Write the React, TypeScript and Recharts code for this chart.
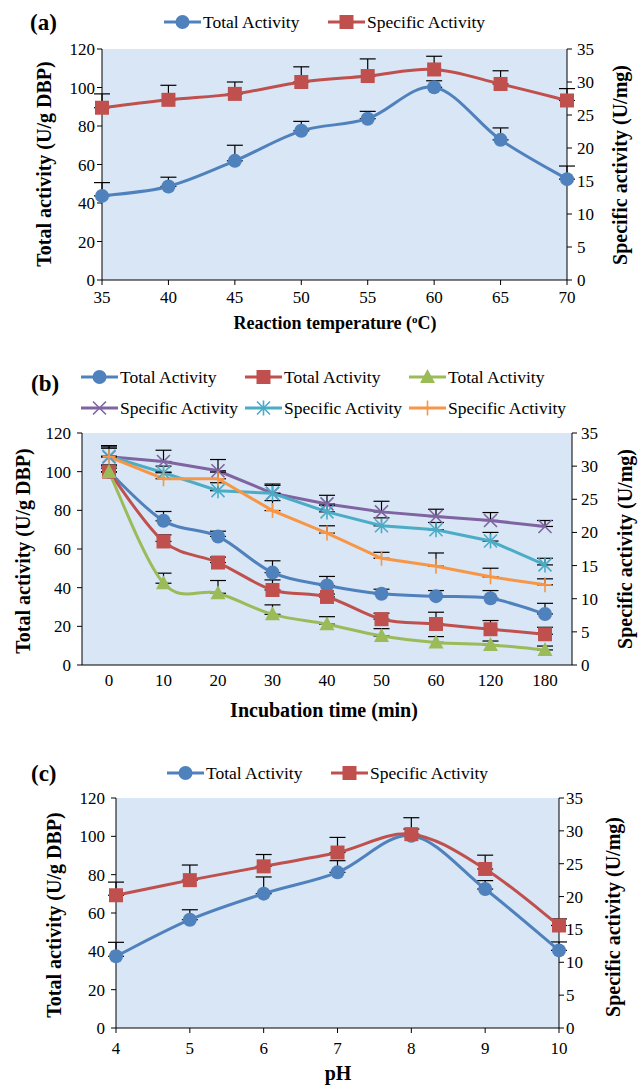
import React from 'react';
import { LineChart, Line, XAxis, YAxis, CartesianGrid, ErrorBar } from 'recharts';

const FONT = 'Liberation Serif, Times New Roman, Times, serif';
const BLUE = '#4F81BD';
const RED = '#C0504D';
const GREEN = '#9BBB59';
const PURPLE = '#8064A2';
const TEAL = '#4BACC6';
const ORANGE = '#F79646';
const BG = '#d8e6f5';

// ---------- Panel (a): reaction temperature ----------
const tempC = [35, 40, 45, 50, 55, 60, 65, 70];
const tempTotal = [43.7, 48.6, 61.9, 77.5, 83.8, 100.1, 72.8, 52.4];
const tempTotalErr = [6.9, 4.8, 8.1, 4.9, 3.8, 3.4, 6.2, 6.8];
const tempSpecific = [26.1, 27.3, 28.2, 30.0, 30.9, 31.9, 29.7, 27.2];
const tempSpecificErr = [2.1, 2.2, 1.8, 2.3, 2.6, 2.0, 2.0, 1.8];

// ---------- Panel (b): incubation time ----------
const timeLabels = ['0', '10', '20', '30', '40', '50', '60', '120', '180'];
const timeTotal1 = [100, 74.6, 66.5, 47.8, 41.1, 36.8, 35.6, 34.5, 26.4];
const timeTotal1Err = [3.5, 4.8, 2.7, 6.1, 4.7, 2.4, 2.9, 4.0, 5.5];
const timeTotal2 = [100, 63.9, 53.0, 38.8, 35.2, 23.7, 21.2, 18.5, 15.9];
const timeTotal2Err = [3.0, 3.4, 2.8, 5.2, 1.5, 3.1, 6.1, 4.5, 3.6];
const timeTotal3 = [99.8, 42.3, 37.1, 26.2, 21.1, 15.0, 11.7, 10.4, 7.8];
const timeTotal3Err = [2.0, 5.2, 6.6, 4.9, 3.9, 3.8, 3.0, 2.0, 2.0];
const timeSpec1 = [31.4, 30.7, 29.3, 25.9, 24.3, 23.1, 22.4, 21.8, 20.9];
const timeSpec1Err = [1.7, 1.7, 1.7, 1.4, 1.3, 1.6, 1.1, 1.2, 0.9];
const timeSpec2 = [31.5, 29.0, 26.3, 25.9, 23.1, 21.0, 20.4, 18.7, 15.1];
const timeSpec2Err = [1.2, 1.0, 1.2, 1.2, 1.0, 1.2, 1.1, 1.3, 1.0];
const timeSpec3 = [31.4, 28.1, 28.1, 23.3, 19.9, 16.1, 14.9, 13.3, 12.1];
const timeSpec3Err = [1.5, 1.0, 1.0, 1.5, 1.1, 0.9, 2.0, 1.3, 0.9];

// ---------- Panel (c): pH ----------
const phValues = [4, 5, 6, 7, 8, 9, 10];
const phTotal = [37.4, 56.5, 70.1, 81.2, 100.3, 72.5, 40.5];
const phTotalErr = [7.3, 5.2, 8.7, 6.1, 3.5, 4.4, 4.4];
const phSpecific = [20.2, 22.5, 24.6, 26.7, 29.5, 24.2, 15.6];
const phSpecificErr = [2.0, 2.3, 1.8, 2.3, 2.5, 2.1, 1.0];

const leftTicks = [0, 20, 40, 60, 80, 100, 120];
const rightTicks = [0, 5, 10, 15, 20, 25, 30, 35];

const dataA = tempC.map((x, i) => ({
  x,
  total: tempTotal[i],
  totalErr: [0, tempTotalErr[i]],
  spec: tempSpecific[i],
  specErr: [0, tempSpecificErr[i]],
}));

const dataB = timeLabels.map((t, i) => ({
  t,
  t1: timeTotal1[i], t1e: [0, timeTotal1Err[i]],
  t2: timeTotal2[i], t2e: [0, timeTotal2Err[i]],
  t3: timeTotal3[i], t3e: [0, timeTotal3Err[i]],
  s1: timeSpec1[i], s1e: [0, timeSpec1Err[i]],
  s2: timeSpec2[i], s2e: [0, timeSpec2Err[i]],
  s3: timeSpec3[i], s3e: [0, timeSpec3Err[i]],
}));

const dataC = phValues.map((x, i) => ({
  x,
  total: phTotal[i],
  totalErr: [0, phTotalErr[i]],
  spec: phSpecific[i],
  specErr: [0, phSpecificErr[i]],
}));

// Excel-like smoothed line (Catmull-Rom as cubic Bezier)
function excelCurve(context: any) {
  let pts: number[][] = [];
  return {
    areaStart() {},
    areaEnd() {},
    lineStart() {
      pts = [];
    },
    point(x: number, y: number) {
      pts.push([+x, +y]);
    },
    lineEnd() {
      const n = pts.length;
      if (!n) return;
      context.moveTo(pts[0][0], pts[0][1]);
      for (let i = 0; i < n - 1; i++) {
        const p0 = pts[Math.max(i - 1, 0)];
        const p1 = pts[i];
        const p2 = pts[i + 1];
        const p3 = pts[Math.min(i + 2, n - 1)];
        context.bezierCurveTo(
          p1[0] + (p2[0] - p0[0]) / 6,
          p1[1] + (p2[1] - p0[1]) / 6,
          p2[0] - (p3[0] - p1[0]) / 6,
          p2[1] - (p3[1] - p1[1]) / 6,
          p2[0],
          p2[1]
        );
      }
    },
  };
}

type Shape = 'circle' | 'square' | 'triangle' | 'x' | 'star' | 'plus';

function Marker({ shape, cx, cy, color }: { shape: Shape; cx: number; cy: number; color: string }) {
  if (cx == null || cy == null) return null;
  switch (shape) {
    case 'circle':
      return <circle cx={cx} cy={cy} r={7} fill={color} />;
    case 'square':
      return <rect x={cx - 7} y={cy - 7} width={14} height={14} fill={color} />;
    case 'triangle':
      return <polygon points={`${cx},${cy - 8} ${cx + 7.5},${cy + 6} ${cx - 7.5},${cy + 6}`} fill={color} />;
    case 'x':
      return (
        <path
          d={`M${cx - 6.5},${cy - 6.5}L${cx + 6.5},${cy + 6.5}M${cx - 6.5},${cy + 6.5}L${cx + 6.5},${cy - 6.5}`}
          stroke={color}
          strokeWidth={1.6}
          fill="none"
        />
      );
    case 'star':
      return (
        <path
          d={`M${cx - 6.5},${cy - 6.5}L${cx + 6.5},${cy + 6.5}M${cx - 6.5},${cy + 6.5}L${cx + 6.5},${cy - 6.5}M${cx},${cy - 7.5}L${cx},${cy + 7.5}`}
          stroke={color}
          strokeWidth={1.6}
          fill="none"
        />
      );
    case 'plus':
      return (
        <path
          d={`M${cx - 6.5},${cy}L${cx + 6.5},${cy}M${cx},${cy - 7.5}L${cx},${cy + 7.5}`}
          stroke={color}
          strokeWidth={1.6}
          fill="none"
        />
      );
  }
  return null;
}

const dotFn = (shape: Shape, color: string) => (p: any) =>
  <Marker key={`m-${shape}-${p.index}`} shape={shape} cx={p.cx} cy={p.cy} color={color} />;

const tickStyle = { fill: '#000', fontSize: 17, fontFamily: FONT };
const axisLineStyle = { stroke: '#000', strokeWidth: 1 };

function errBar(key: string) {
  return <ErrorBar dataKey={key} width={8} stroke="#000" strokeWidth={1.2} direction="y" />;
}

function LegendItem({ x, y, shape, color, label }: { x: number; y: number; shape: Shape; color: string; label: string }) {
  return (
    <g>
      <line x1={x} x2={x + 37} y1={y} y2={y} stroke={color} strokeWidth={3} />
      <Marker shape={shape} cx={x + 18.5} cy={y} color={color} />
      <text x={x + 39} y={y + 5.5} fontSize={17.5} fontFamily={FONT} fill="#000" style={{ fontFamily: FONT }}>
        {label}
      </text>
    </g>
  );
}

function VTitle({ x, y, text }: { x: number; y: number; text: string }) {
  return (
    <text
      x={x}
      y={y}
      transform={`rotate(-90 ${x} ${y})`}
      textAnchor="middle"
      dominantBaseline="central"
      fontSize={20}
      fontWeight="bold"
      fontFamily={FONT}
      style={{ fontFamily: FONT }}
      fill="#000"
    >
      {text}
    </text>
  );
}

export default function App() {
  return (
    <div style={{ position: 'absolute', left: 0, top: 0, width: 641, height: 1085, background: '#fff', overflow: 'hidden', fontFamily: FONT }}>
      {/* Panel (a) */}
      <div style={{ position: 'absolute', left: 0, top: 0 }}>
        <LineChart width={641} height={340} data={dataA} margin={{ top: 49, right: 14, bottom: 30, left: 42 }}>
          <CartesianGrid fill={BG} horizontal={false} vertical={false} />
          <XAxis
            dataKey="x"
            type="number"
            domain={[35, 70]}
            ticks={tempC}
            interval={0}
            height={30}
            tickSize={5}
            tickMargin={6}
            axisLine={axisLineStyle}
            tickLine={axisLineStyle}
            tick={tickStyle}
          />
          <YAxis domain={[0, 120]} ticks={leftTicks} interval={0} width={60} tickSize={5} tickMargin={2} axisLine={axisLineStyle} tickLine={axisLineStyle} tick={tickStyle} />
          <YAxis yAxisId="R" orientation="right" domain={[0, 35]} ticks={rightTicks} interval={0} width={60} tickSize={5} tickMargin={5} axisLine={axisLineStyle} tickLine={axisLineStyle} tick={tickStyle} />
          <Line dataKey="total" stroke={BLUE} strokeWidth={3} type={excelCurve as any} dot={dotFn('circle', BLUE)} activeDot={false} isAnimationActive={false}>
            {errBar('totalErr')}
          </Line>
          <Line yAxisId="R" dataKey="spec" stroke={RED} strokeWidth={3} type={excelCurve as any} dot={dotFn('square', RED)} activeDot={false} isAnimationActive={false}>
            {errBar('specErr')}
          </Line>
        </LineChart>
      </div>

      {/* Panel (b) */}
      <div style={{ position: 'absolute', left: 0, top: 340 }}>
        <LineChart width={641} height={390} data={dataB} margin={{ top: 93, right: 9, bottom: 35, left: 22 }}>
          <CartesianGrid fill={BG} horizontal={false} vertical={false} />
          <XAxis
            dataKey="t"
            type="category"
            padding={{ left: 27, right: 27 }}
            interval={0}
            height={30}
            tickSize={5}
            tickMargin={4}
            axisLine={axisLineStyle}
            tickLine={false}
            tick={tickStyle}
          />
          <YAxis domain={[0, 120]} ticks={leftTicks} interval={0} width={60} tickSize={5} tickMargin={6} axisLine={axisLineStyle} tickLine={axisLineStyle} tick={tickStyle} />
          <YAxis yAxisId="R" orientation="right" domain={[0, 35]} ticks={rightTicks} interval={0} width={60} tickSize={5} tickMargin={4} axisLine={axisLineStyle} tickLine={axisLineStyle} tick={tickStyle} />
          <Line yAxisId="R" dataKey="s1" stroke={PURPLE} strokeWidth={3} type="linear" dot={dotFn('x', PURPLE)} activeDot={false} isAnimationActive={false}>
            {errBar('s1e')}
          </Line>
          <Line yAxisId="R" dataKey="s2" stroke={TEAL} strokeWidth={3} type="linear" dot={dotFn('star', TEAL)} activeDot={false} isAnimationActive={false}>
            {errBar('s2e')}
          </Line>
          <Line yAxisId="R" dataKey="s3" stroke={ORANGE} strokeWidth={3} type="linear" dot={dotFn('plus', ORANGE)} activeDot={false} isAnimationActive={false}>
            {errBar('s3e')}
          </Line>
          <Line dataKey="t1" stroke={BLUE} strokeWidth={3} type={excelCurve as any} dot={dotFn('circle', BLUE)} activeDot={false} isAnimationActive={false}>
            {errBar('t1e')}
          </Line>
          <Line dataKey="t2" stroke={RED} strokeWidth={3} type={excelCurve as any} dot={dotFn('square', RED)} activeDot={false} isAnimationActive={false}>
            {errBar('t2e')}
          </Line>
          <Line dataKey="t3" stroke={GREEN} strokeWidth={3} type={excelCurve as any} dot={dotFn('triangle', GREEN)} activeDot={false} isAnimationActive={false}>
            {errBar('t3e')}
          </Line>
        </LineChart>
      </div>

      {/* Panel (c) */}
      <div style={{ position: 'absolute', left: 0, top: 750 }}>
        <LineChart width={641} height={335} data={dataC} margin={{ top: 48, right: 22, bottom: 27, left: 56 }}>
          <CartesianGrid fill={BG} horizontal={false} vertical={false} />
          <XAxis
            dataKey="x"
            type="number"
            domain={[4, 10]}
            ticks={phValues}
            interval={0}
            height={30}
            tickSize={5}
            tickMargin={9}
            axisLine={axisLineStyle}
            tickLine={axisLineStyle}
            tick={tickStyle}
          />
          <YAxis domain={[0, 120]} ticks={leftTicks} interval={0} width={60} tickSize={5} tickMargin={6} axisLine={axisLineStyle} tickLine={axisLineStyle} tick={tickStyle} />
          <YAxis yAxisId="R" orientation="right" domain={[0, 35]} ticks={rightTicks} interval={0} width={60} tickSize={5} tickMargin={2} axisLine={axisLineStyle} tickLine={axisLineStyle} tick={tickStyle} />
          <Line dataKey="total" stroke={BLUE} strokeWidth={3} type={excelCurve as any} dot={dotFn('circle', BLUE)} activeDot={false} isAnimationActive={false}>
            {errBar('totalErr')}
          </Line>
          <Line yAxisId="R" dataKey="spec" stroke={RED} strokeWidth={3} type={excelCurve as any} dot={dotFn('square', RED)} activeDot={false} isAnimationActive={false}>
            {errBar('specErr')}
          </Line>
        </LineChart>
      </div>

      {/* Overlay: panel labels, legends, axis titles */}
      <svg width={641} height={1085} style={{ position: 'absolute', left: 0, top: 0, pointerEvents: 'none', fontFamily: FONT }}>
        {/* (a) */}
        <text x={30} y={30} fontSize={23} fontWeight="bold" fontFamily={FONT} fill="#000">(a)</text>
        <LegendItem x={164} y={22} shape="circle" color={BLUE} label="Total Activity" />
        <LegendItem x={328} y={22} shape="square" color={RED} label="Specific Activity" />
        <VTitle x={44} y={164} text="Total activity (U/g DBP)" />
        <VTitle x={620} y={165} text="Specific activity (U/mg)" />
        <text x={335} y={329} textAnchor="middle" fontSize={18} fontWeight="bold" fontFamily={FONT} fill="#000">
          Reaction temperature (<tspan fontSize={11} dy={-6}>o</tspan><tspan dy={6}>C)</tspan>
        </text>

        {/* (b) */}
        <text x={31} y={391} fontSize={23} fontWeight="bold" fontFamily={FONT} fill="#000">(b)</text>
        <LegendItem x={81} y={377} shape="circle" color={BLUE} label="Total Activity" />
        <LegendItem x={245} y={377} shape="square" color={RED} label="Total Activity" />
        <LegendItem x={409} y={377} shape="triangle" color={GREEN} label="Total Activity" />
        <LegendItem x={81} y={408} shape="x" color={PURPLE} label="Specific Activity" />
        <LegendItem x={245} y={408} shape="star" color={TEAL} label="Specific Activity" />
        <LegendItem x={409} y={408} shape="plus" color={ORANGE} label="Specific Activity" />
        <VTitle x={23} y={551} text="Total activity (U/g DBP)" />
        <VTitle x={625} y={549} text="Specific activity (U/mg)" />
        <text x={324} y={717} textAnchor="middle" fontSize={20} fontWeight="bold" fontFamily={FONT} fill="#000">
          Incubation time (min)
        </text>

        {/* (c) */}
        <text x={31} y={781} fontSize={23} fontWeight="bold" fontFamily={FONT} fill="#000">(c)</text>
        <LegendItem x={167} y={773} shape="circle" color={BLUE} label="Total Activity" />
        <LegendItem x={331} y={773} shape="square" color={RED} label="Specific Activity" />
        <VTitle x={54} y={915} text="Total activity (U/g DBP)" />
        <VTitle x={613} y={917} text="Specific activity (U/mg)" />
        <text x={338} y={1080} textAnchor="middle" fontSize={20} fontWeight="bold" fontFamily={FONT} fill="#000">
          pH
        </text>
      </svg>
    </div>
  );
}
